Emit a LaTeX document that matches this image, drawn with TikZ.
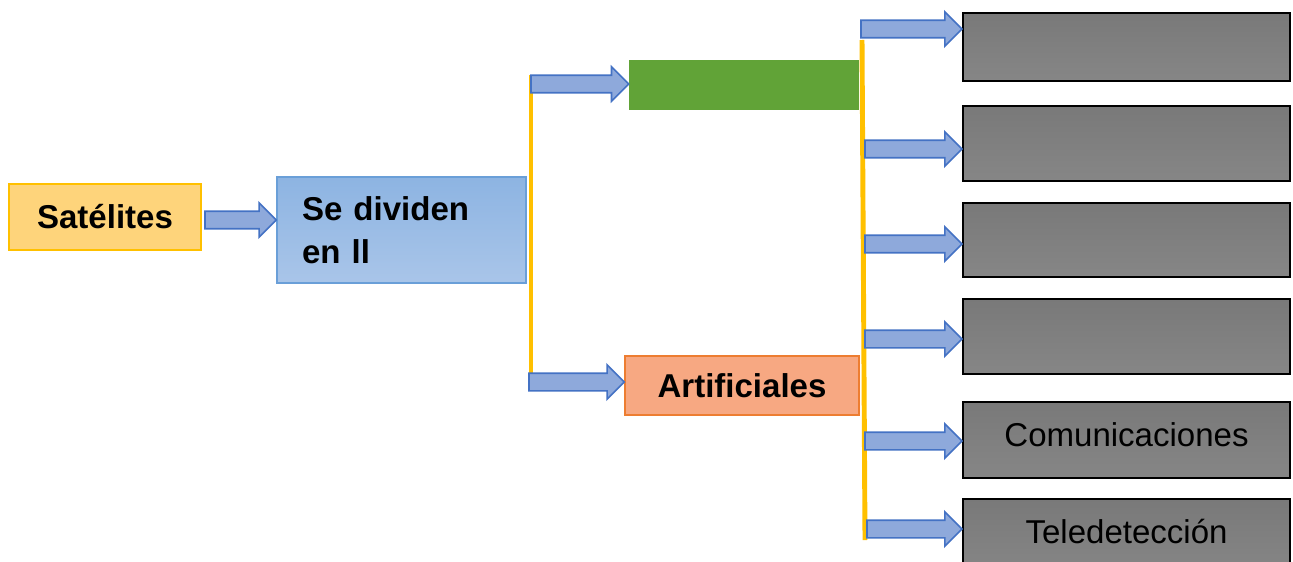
\documentclass[tikz,border=0pt]{standalone}
\usepackage{fontspec}
\setmainfont{Liberation Sans}
\usetikzlibrary{calc}
\definecolor{satfill}{HTML}{FED47B}
\definecolor{satline}{HTML}{FFC000}
\definecolor{arrfill}{HTML}{8EA9DB}
\definecolor{arrline}{HTML}{4472C4}
\definecolor{divtop}{HTML}{8DB4E2}
\definecolor{divbot}{HTML}{A9C5E9}
\definecolor{divline}{HTML}{6A9FD8}
\definecolor{greenfill}{HTML}{61A337}
\definecolor{artfill}{HTML}{F7A882}
\definecolor{artline}{HTML}{ED7D31}
\definecolor{graytop}{HTML}{797979}
\definecolor{graybot}{HTML}{868686}
\definecolor{yell}{HTML}{FFC000}
\newcommand{\barrow}[2]{%
  \draw[blockarrow] let \p1=(#1), \p2=(#2.west) in
  (\x1,\y1+5.0pt) -- (\x2-9.8pt,\y1+5.0pt) -- (\x2-9.8pt,\y1+9.8pt) --
  (\x2,\y1) -- (\x2-9.8pt,\y1-9.8pt) -- (\x2-9.8pt,\y1-5.0pt) --
  (\x1,\y1-5.0pt) -- cycle;}
\begin{document}
\begin{tikzpicture}[x=0.02cm,y=-0.02cm,
  txt/.style={font=\fontsize{18.8pt}{24.5pt}\selectfont},
  boldtxt/.style={font=\fontsize{18.8pt}{24.5pt}\selectfont\bfseries},
  satbox/.style={draw=satline, line width=0.8pt, fill=satfill, minimum width=3.84cm, minimum height=1.32cm, inner sep=0pt, boldtxt},
  divbox/.style={draw=divline, line width=0.8pt, top color=divtop, bottom color=divbot, minimum width=4.98cm, minimum height=2.12cm, inner xsep=0pt, text width=3.98cm, align=left, boldtxt},
  greenbox/.style={fill=greenfill, minimum width=4.6cm, minimum height=1.0cm, inner sep=0pt},
  artbox/.style={draw=artline, line width=0.8pt, fill=artfill, minimum width=4.68cm, minimum height=1.18cm, inner sep=0pt, boldtxt},
  graybox/.style={draw=black, line width=1.1pt, top color=graytop, middle color=graytop, bottom color=graybot, minimum width=6.54cm, inner sep=0pt},
  blockarrow/.style={draw=arrline, line width=0.9pt, fill=arrfill, line join=miter},
  yline/.style={draw=yell, line width=2.8pt}]
\useasboundingbox (0,0) rectangle (1293,561);
\clip (0,0) rectangle (1293,561);
\fill[white] (0,0) rectangle (1293,561);

% boxes
\node[satbox] (sat) at (105,217) {Satélites};
\node[divbox] (div) at (401.5,230) {Se dividen\\en ll};
\node[greenbox] (nat) at (744,85) {};
\node[artbox] (art) at (742,385.5) {Artificiales};

\node[graybox, minimum height=1.36cm] (g1) at (1126.5,47) {};
\node[graybox, minimum height=1.50cm] (g2) at (1126.5,143.5) {};
\node[graybox, minimum height=1.48cm] (g3) at (1126.5,240) {};
\node[graybox, minimum height=1.50cm] (g4) at (1126.5,336.5) {};
\node[graybox, minimum height=1.52cm] (g5) at (1126.5,440) {};
\node[graybox, minimum height=1.50cm] (g6) at (1126.5,536.5) {};
\node[txt] (t5) at (1126.5,435) {Comunicaciones};
\node[txt] (t6) at (1126.5,531.5) {Teledetección};

% yellow brackets
\coordinate (ly1) at (531,75);
\coordinate (ly2) at (531,376);
\draw[yline] (ly1) -- (ly2);
\coordinate (ry1) at (862,40);
\coordinate (ry2) at (865,540);
\draw[yline] (ry1) -- (ry2);

% arrow start points
\coordinate (s0) at (205,220);
\coordinate (sl1) at (531,84);
\coordinate (sl2) at (529,382);
\coordinate (sr1) at (861,29);
\coordinate (sr2) at (865,149);
\coordinate (sr3) at (865,244);
\coordinate (sr4) at (865,339);
\coordinate (sr5) at (865,441);
\coordinate (sr6) at (867,529);

\barrow{s0}{div}
\barrow{sl1}{nat}
\barrow{sl2}{art}
\barrow{sr1}{g1}
\barrow{sr2}{g2}
\barrow{sr3}{g3}
\barrow{sr4}{g4}
\barrow{sr5}{g5}
\barrow{sr6}{g6}
\end{tikzpicture}
\end{document}
